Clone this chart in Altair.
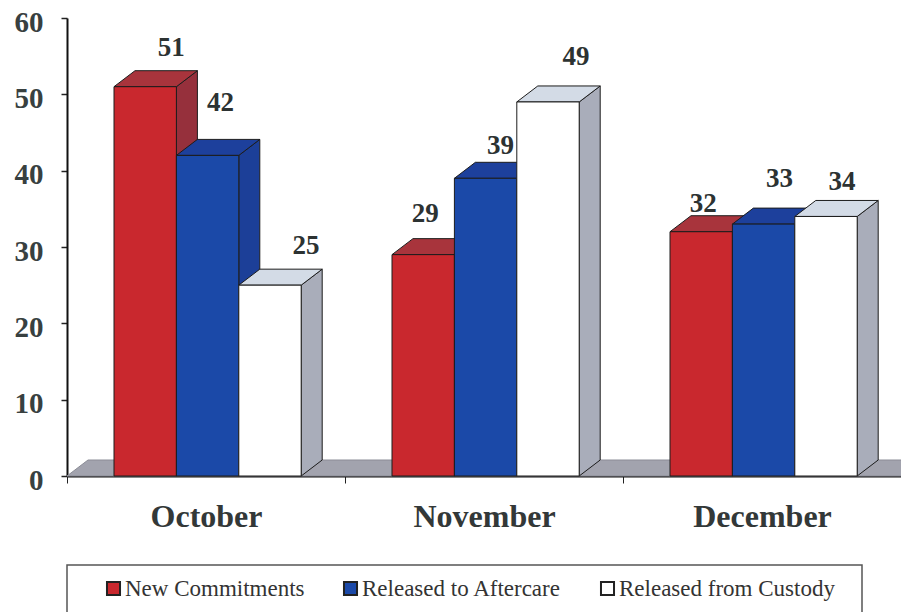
import altair as alt
import pandas as pd

months = ["October", "November", "December"]
series_names = ["New Commitments", "Released to Aftercare", "Released from Custody"]
new_commitments = [51, 29, 32]
released_aftercare = [42, 39, 33]
released_custody = [25, 49, 34]
y_ticks = [0, 10, 20, 30, 40, 50, 60]

values = [new_commitments, released_aftercare, released_custody]
front_colors = ["#c9282e", "#1b49a8", "#ffffff"]
top_colors = ["#a8343c", "#1d409c", "#d3dbe6"]
side_colors = ["#96303c", "#1c3f98", "#a9adba"]

FONT = "Liberation Serif"
W, H = 834, 458
PX_X = 3 / W       # x units per pixel
PX_Y = 60 / H      # y units per pixel
START = 47 * PX_X
BAR = 62.4 * PX_X
DX = 21 * PX_X
DY = 16 * PX_Y
EDGE = "#1c1c1c"

x_scale = alt.Scale(domain=[0, 3], nice=False, zero=False)
y_scale = alt.Scale(domain=[0, 60], nice=False)
color_scale = alt.Scale(domain=series_names, range=front_colors)


def X(field):
    return alt.X(f"{field}:Q", scale=x_scale, axis=None)


def Y(field):
    return alt.Y(f"{field}:Q", scale=y_scale, axis=None)


# Invisible layer that carries the two visible axes
axis_df = pd.DataFrame({"month": months, "v": [0, 0, 0]})
axes = alt.Chart(axis_df).mark_tick(opacity=0).encode(
    x=alt.X("month:N", sort=months,
            scale=alt.Scale(type="band", domain=months, paddingInner=0, paddingOuter=0),
            axis=alt.Axis(title=None, tickBand="extent", labelAngle=0, labelFont=FONT,
                          labelFontWeight="bold", labelFontSize=32, labelColor="#333838",
                          labelPadding=18, tickSize=7, tickColor="#222", domainColor="#111",
                          domainWidth=2, grid=False)),
    y=alt.Y("v:Q", scale=y_scale,
            axis=alt.Axis(title=None, values=y_ticks, labelFont=FONT, labelFontWeight="bold",
                          labelFontSize=29, labelColor="#384040", labelPadding=18,
                          labelOffset=4, tickSize=6, tickColor="#222", tickWidth=1.5,
                          domainColor="#111", domainWidth=2, grid=False)),
)

# Gray floor
floor_df = pd.DataFrame({"a": [0, DX], "b": [3, 3 + DX], "y": [0, DY]})
floor = alt.Chart(floor_df).mark_area(
    fill="#a2a3ae", stroke="#8b8c96", strokeWidth=1, orient="horizontal"
).encode(x=X("a"), x2="b", y=Y("y"))

layers = [axes, floor]
for j, name in enumerate(series_names):
    rows = []
    for i, month in enumerate(months):
        x0 = i + START + j * BAR
        rows.append({"month": month, "series": name, "x0": x0, "x1": x0 + BAR,
                     "v": values[j][i], "base": 0})
    front_df = pd.DataFrame(rows)

    top_df = pd.DataFrame(
        [{"month": r["month"], "a": r["x0"], "b": r["x1"], "y": r["v"]} for r in rows]
        + [{"month": r["month"], "a": r["x0"] + DX, "b": r["x1"] + DX, "y": r["v"] + DY} for r in rows]
    )
    side_df = pd.DataFrame(
        [{"month": r["month"], "x": r["x1"], "lo": 0, "hi": r["v"]} for r in rows]
        + [{"month": r["month"], "x": r["x1"] + DX, "lo": DY, "hi": r["v"] + DY} for r in rows]
    )
    side = alt.Chart(side_df).mark_area(
        fill=side_colors[j], stroke=EDGE, strokeWidth=1, orient="vertical"
    ).encode(x=X("x"), y=Y("lo"), y2="hi", detail="month:N")
    top = alt.Chart(top_df).mark_area(
        fill=top_colors[j], stroke=EDGE, strokeWidth=1, orient="horizontal"
    ).encode(x=X("a"), x2="b", y=Y("y"), detail="month:N")
    front = alt.Chart(front_df).mark_bar(stroke=EDGE, strokeWidth=1).encode(
        x=X("x0"), x2="x1", y=Y("v"), y2="base",
        color=alt.Color("series:N", scale=color_scale, sort=series_names,
                        legend=alt.Legend(
                            title=None, orient="none", legendX=35, legendY=559,
                            direction="horizontal", columns=3, gridAlign="none",
                            columnPadding=34, symbolType="square", symbolSize=170,
                            symbolStrokeColor="#222", symbolStrokeWidth=2,
                            labelFont=FONT, labelFontSize=23, labelColor="#333",
                            labelOffset=0, labelLimit=300, padding=0)),
    )
    layers += [side, top, front]

# Value labels sit clear of the 3-D bars; nudges are in pixels from each front-face centre
nudges = {
    (0, 0): (26, -39), (1, 0): (13, -52), (2, 0): (36, -39),
    (0, 1): (2, -41), (1, 1): (15, -32), (2, 1): (28, -45),
    (0, 2): (2, -28), (1, 2): (16, -45), (2, 2): (16, -34),
}
label_rows = []
for j in range(3):
    for i in range(3):
        ndx, ndy = nudges[(j, i)]
        label_rows.append({
            "lx": i + START + (j + 0.5) * BAR + ndx * PX_X,
            "ly": values[j][i] - ndy * PX_Y,
            "label": str(values[j][i]),
        })
labels = alt.Chart(pd.DataFrame(label_rows)).mark_text(
    font=FONT, fontWeight="bold", fontSize=27, color="#2c3232", baseline="middle"
).encode(x=X("lx"), y=Y("ly"), text="label:N")
layers.append(labels)

# Legend frame
frame = alt.Chart(pd.DataFrame({"k": [0]})).mark_rect(
    fill="white", stroke="#555", strokeWidth=1.5, clip=False
).encode(x=alt.value(0), x2=alt.value(795), y=alt.value(547), y2=alt.value(610))

chart = alt.layer(frame, *layers).resolve_scale(x="independent").resolve_axis(y="independent").properties(
    width=W, height=H,
    autosize=alt.AutoSizeParams(type="none"),
    padding={"left": 59, "top": 10, "right": 0, "bottom": 136},
    background="white",
).configure_view(stroke=None)

chart.save("out.html", embed_options={"renderer": "svg", "actions": False})
